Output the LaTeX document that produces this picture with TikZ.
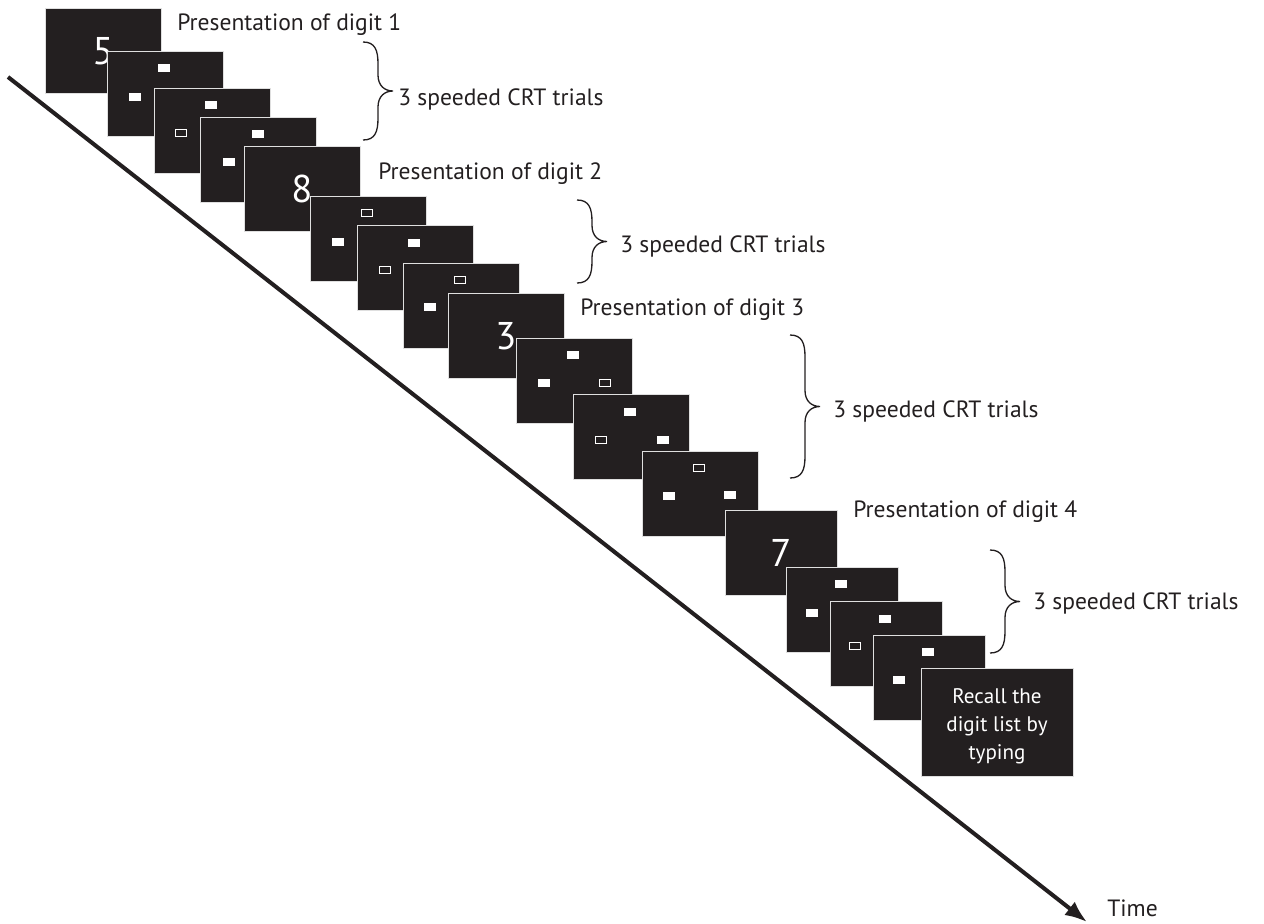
\documentclass[tikz,border=0pt]{standalone}
\usepackage{fontspec}
\setmainfont{PT Sans}
\usetikzlibrary{arrows.meta}
\definecolor{scrn}{RGB}{35,31,32}
\tikzset{
  screen/.style={fill=scrn, draw=gray!25, line width=0.5pt},
  stimfill/.style={fill=white},
  stimring/.style={draw=white, fill=scrn, line width=1.1pt},
  label/.style={anchor=base west, inner sep=0pt, text=scrn, font=\fontsize{13.4}{15}\selectfont},
  digit/.style={inner sep=0pt, text=white, font=\fontsize{22}{22}\selectfont},
  braceline/.style={draw=scrn, line width=0.75pt},
}
% stimuli (centre inside a screen)
\newcommand{\lit}[2]{\fill[stimfill] (#1-6.25,#2-4) rectangle ++(12.5,8);}
\newcommand{\ring}[2]{\filldraw[stimring] (#1-5.5,#2-3.5) rectangle ++(11,7);}
% screens: x, y, width, content
\newcommand{\trialscreen}[4]{\begin{scope}[shift={(#1,#2)}]
  \filldraw[screen] (0,0) rectangle (#3,85); #4
\end{scope}}
\newcommand{\digitscreen}[4]{\begin{scope}[shift={(#1,#2)}]
  \filldraw[screen] (0,0) rectangle (#3,85);
  \node[digit] (dig#4) at (#3/2,43) {#4};
\end{scope}}
% curly brace: x, top, bottom
\newcommand{\trialbrace}[3]{%
  \pgfmathsetmacro{\bm}{(#2+#3)/2}
  \draw[braceline] (#1,#2) .. controls (#1+12,#2) and (#1+15,#2+8) .. (#1+15,#2+22)
    -- (#1+15,\bm-16) .. controls (#1+15,\bm-5) and (#1+22,\bm) .. (#1+30,\bm)
    .. controls (#1+22,\bm) and (#1+15,\bm+5) .. (#1+15,\bm+16)
    -- (#1+15,#3-22) .. controls (#1+15,#3-8) and (#1+12,#3) .. (#1,#3);}

\begin{document}
\begin{tikzpicture}[x=0.02cm, y=-0.02cm]
\useasboundingbox (0,0) rectangle (1264,923);
%time axis
\coordinate (t0) at (8,77);
\coordinate (t1) at (1087,922);
\draw[draw=scrn, line width=2.3pt, -{Latex[length=4.4mm,width=3.4mm]}] (t0) -- (t1);
\node[label] (time) at (1107,916) {Time};
%FIRST DIGIT
\digitscreen{45}{8}{116}{5}
\trialscreen{107}{51}{116}{\lit{57}{17}\lit{28}{46}}
\trialscreen{154}{88}{116}{\lit{57}{17}\ring{27}{45}}
\trialscreen{200}{117}{116}{\lit{58}{17}\lit{29}{45}}
\node[label] (pres1) at (177,30.5) {Presentation of digit 1};
\trialbrace{363}{42}{140}
\node[label] (crt1) at (398,105) {3 speeded CRT trials};
%SECOND DIGIT
\digitscreen{244}{146}{116}{8}
\trialscreen{310}{196}{116}{\ring{57}{17}\lit{28}{46}}
\trialscreen{357}{225}{116}{\lit{57}{18}\ring{28}{45}}
\trialscreen{403}{263}{116}{\ring{57}{17}\lit{27}{44}}
\node[label] (pres2) at (378,179) {Presentation of digit 2};
\trialbrace{577}{200}{283}
\node[label] (crt2) at (620,252) {3 speeded CRT trials};
%THIRD DIGIT
\digitscreen{448}{293}{116}{3}
\trialscreen{516}{338}{116}{\lit{57}{17}\lit{28}{45}\ring{89}{45}}
\trialscreen{573}{394}{116}{\lit{57}{18}\ring{28}{46}\lit{90}{46}}
\trialscreen{642}{451}{116}{\ring{57}{17}\lit{27}{45}\lit{88}{44}}
\node[label] (pres3) at (580,315.5) {Presentation of digit 3};
\trialbrace{790}{335}{478}
\node[label] (crt3) at (833,417) {3 speeded CRT trials};
%FOURTH DIGIT
\digitscreen{725}{510}{112}{7}
\trialscreen{786}{567}{112}{\lit{55}{17}\lit{26}{46}}
\trialscreen{830}{601}{112}{\lit{55}{18}\ring{25}{45}}
\trialscreen{873}{635}{112}{\lit{55}{17}\lit{26}{45}}
\node[label] (pres4) at (853,517) {Presentation of digit 4};
\trialbrace{990}{550}{653}
\node[label] (crt4) at (1033,609) {3 speeded CRT trials};
%recall
\filldraw[screen] (921,668) rectangle (1073,776);
\node[text=white, align=center, font=\fontsize{12}{16}\selectfont] (recall) at (997,726) {Recall the\\digit list by\\typing};
\end{tikzpicture}
\end{document}
